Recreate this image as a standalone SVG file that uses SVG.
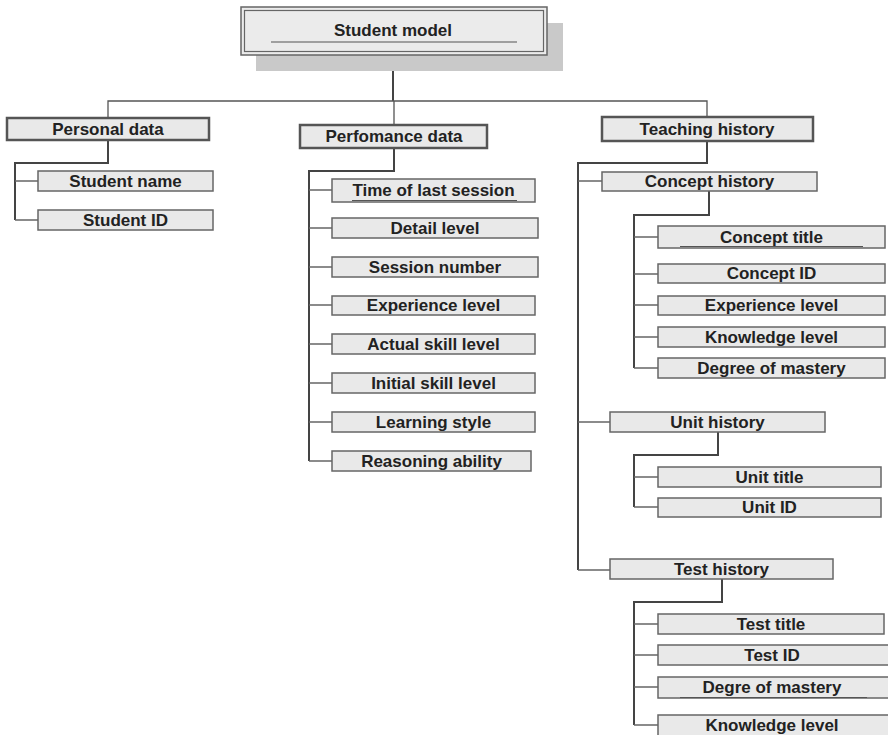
<svg xmlns="http://www.w3.org/2000/svg" width="888" height="735" viewBox="0 0 888 735">
<style>
text{font-family:"Liberation Sans",Arial,sans-serif;font-weight:bold;font-size:17px;fill:#222;text-anchor:middle}
.box{fill:#e9e9e9;stroke:#666;stroke-width:1.5}
.top{fill:#e9e9e9;stroke:#555;stroke-width:2.5}
.ul{stroke:#555;stroke-width:1.2}
.c{fill:none;stroke:#444;stroke-width:2}
.t{fill:none;stroke:#555;stroke-width:1.3}
.b{fill:none;stroke:#666;stroke-width:1.5}
</style>
<rect width="888" height="735" fill="#fff"/>
<g id="connectors">
<path class="c" d="M393 55V101"/>
<path class="t" d="M108 118V101H707V117M394 101V125"/>
<path class="c" d="M108 140V163H15V220"/>
<path class="b" d="M15 181H38M15 220H38"/>
<path class="c" d="M394 148V171H309V461"/>
<path class="b" d="M309 190H332M309 228H332M309 267H332M309 305H332M309 344H332M309 383H332M309 422H332M309 461H332"/>
<path class="c" d="M707 141V163H578V570"/>
<path class="b" d="M578 181H602M578 422H610M578 570H610"/>
<path class="c" d="M709 191V215H634V368"/>
<path class="b" d="M634 237H658M634 274H658M634 305H658M634 337H658M634 368H658"/>
<path class="c" d="M718 432V455H634V507"/>
<path class="b" d="M634 477H658M634 507H658"/>
<path class="c" d="M722 579V602H634V725"/>
<path class="b" d="M634 624H658M634 655H658M634 687H658M634 725H658"/>
</g>
<g id="student-model">
<rect x="256" y="23" width="307" height="48" fill="#c9c9c9"/>
<rect x="241" y="7" width="306" height="48" fill="#ebebeb" stroke="#666" stroke-width="1.5"/>
<rect x="244.5" y="10.5" width="299" height="41" fill="none" stroke="#666" stroke-width="1.2"/>
<line class="ul" x1="271" y1="42" x2="517" y2="42"/>
<text x="393" y="36">Student model</text>
</g>
<g id="personal-data"><rect class="top" x="7" y="118" width="202" height="22"/><text x="108" y="135">Personal data</text></g>
<g id="student-name"><rect class="box" x="38" y="171" width="175" height="20"/><text x="125.5" y="187">Student name</text></g>
<g id="student-id"><rect class="box" x="38" y="210" width="175" height="20"/><text x="125.5" y="226">Student ID</text></g>
<g id="perfomance-data"><rect class="top" x="300" y="125" width="187" height="23"/><text x="394" y="142">Perfomance data</text></g>
<g id="time-of-last-session"><rect class="box" x="332" y="179" width="203" height="23"/><line class="ul" x1="352" y1="200.5" x2="517" y2="200.5"/><text x="433.5" y="196">Time of last session</text></g>
<g id="detail-level"><rect class="box" x="332" y="218" width="206" height="20"/><text x="435" y="234">Detail level</text></g>
<g id="session-number"><rect class="box" x="332" y="257" width="206" height="20"/><text x="435" y="273">Session number</text></g>
<g id="experience-level-1"><rect class="box" x="332" y="296" width="203" height="19"/><text x="433.5" y="311">Experience level</text></g>
<g id="actual-skill-level"><rect class="box" x="332" y="334" width="203" height="20"/><text x="433.5" y="350">Actual skill level</text></g>
<g id="initial-skill-level"><rect class="box" x="332" y="373" width="203" height="20"/><text x="433.5" y="389">Initial skill level</text></g>
<g id="learning-style"><rect class="box" x="332" y="412" width="203" height="20"/><text x="433.5" y="428">Learning style</text></g>
<g id="reasoning-ability"><rect class="box" x="332" y="451" width="199" height="20"/><text x="431.5" y="467">Reasoning ability</text></g>
<g id="teaching-history"><rect class="top" x="602" y="117" width="211" height="24"/><text x="707" y="135">Teaching history</text></g>
<g id="concept-history"><rect class="box" x="602" y="172" width="215" height="19"/><text x="709.5" y="187">Concept history</text></g>
<g id="concept-title"><rect class="box" x="658" y="226" width="227" height="22"/><line class="ul" x1="680" y1="246.5" x2="863" y2="246.5"/><text x="771.5" y="243">Concept title</text></g>
<g id="concept-id"><rect class="box" x="658" y="264" width="227" height="19"/><text x="771.5" y="279">Concept ID</text></g>
<g id="experience-level-2"><rect class="box" x="658" y="296" width="227" height="19"/><text x="771.5" y="311">Experience level</text></g>
<g id="knowledge-level-1"><rect class="box" x="658" y="327" width="227" height="20"/><text x="771.5" y="343">Knowledge level</text></g>
<g id="degree-of-mastery"><rect class="box" x="658" y="358" width="227" height="20"/><text x="771.5" y="374">Degree of mastery</text></g>
<g id="unit-history"><rect class="box" x="610" y="412" width="215" height="20"/><text x="717.5" y="428">Unit history</text></g>
<g id="unit-title"><rect class="box" x="658" y="467" width="223" height="20"/><text x="769.5" y="483">Unit title</text></g>
<g id="unit-id"><rect class="box" x="658" y="498" width="223" height="19"/><text x="769.5" y="513">Unit ID</text></g>
<g id="test-history"><rect class="box" x="610" y="559" width="223" height="20"/><text x="721.5" y="575">Test history</text></g>
<g id="test-title"><rect class="box" x="658" y="614" width="226" height="20"/><text x="771" y="630">Test title</text></g>
<g id="test-id"><rect class="box" x="658" y="645" width="232" height="20"/><text x="772" y="661">Test ID</text></g>
<g id="degre-of-mastery"><rect class="box" x="658" y="677" width="232" height="21"/><line class="ul" x1="680" y1="697.5" x2="867" y2="697.5"/><text x="772" y="693">Degre of mastery</text></g>
<g id="knowledge-level-2"><rect class="box" x="658" y="715" width="232" height="22"/><text x="772" y="731">Knowledge level</text></g>
</svg>
